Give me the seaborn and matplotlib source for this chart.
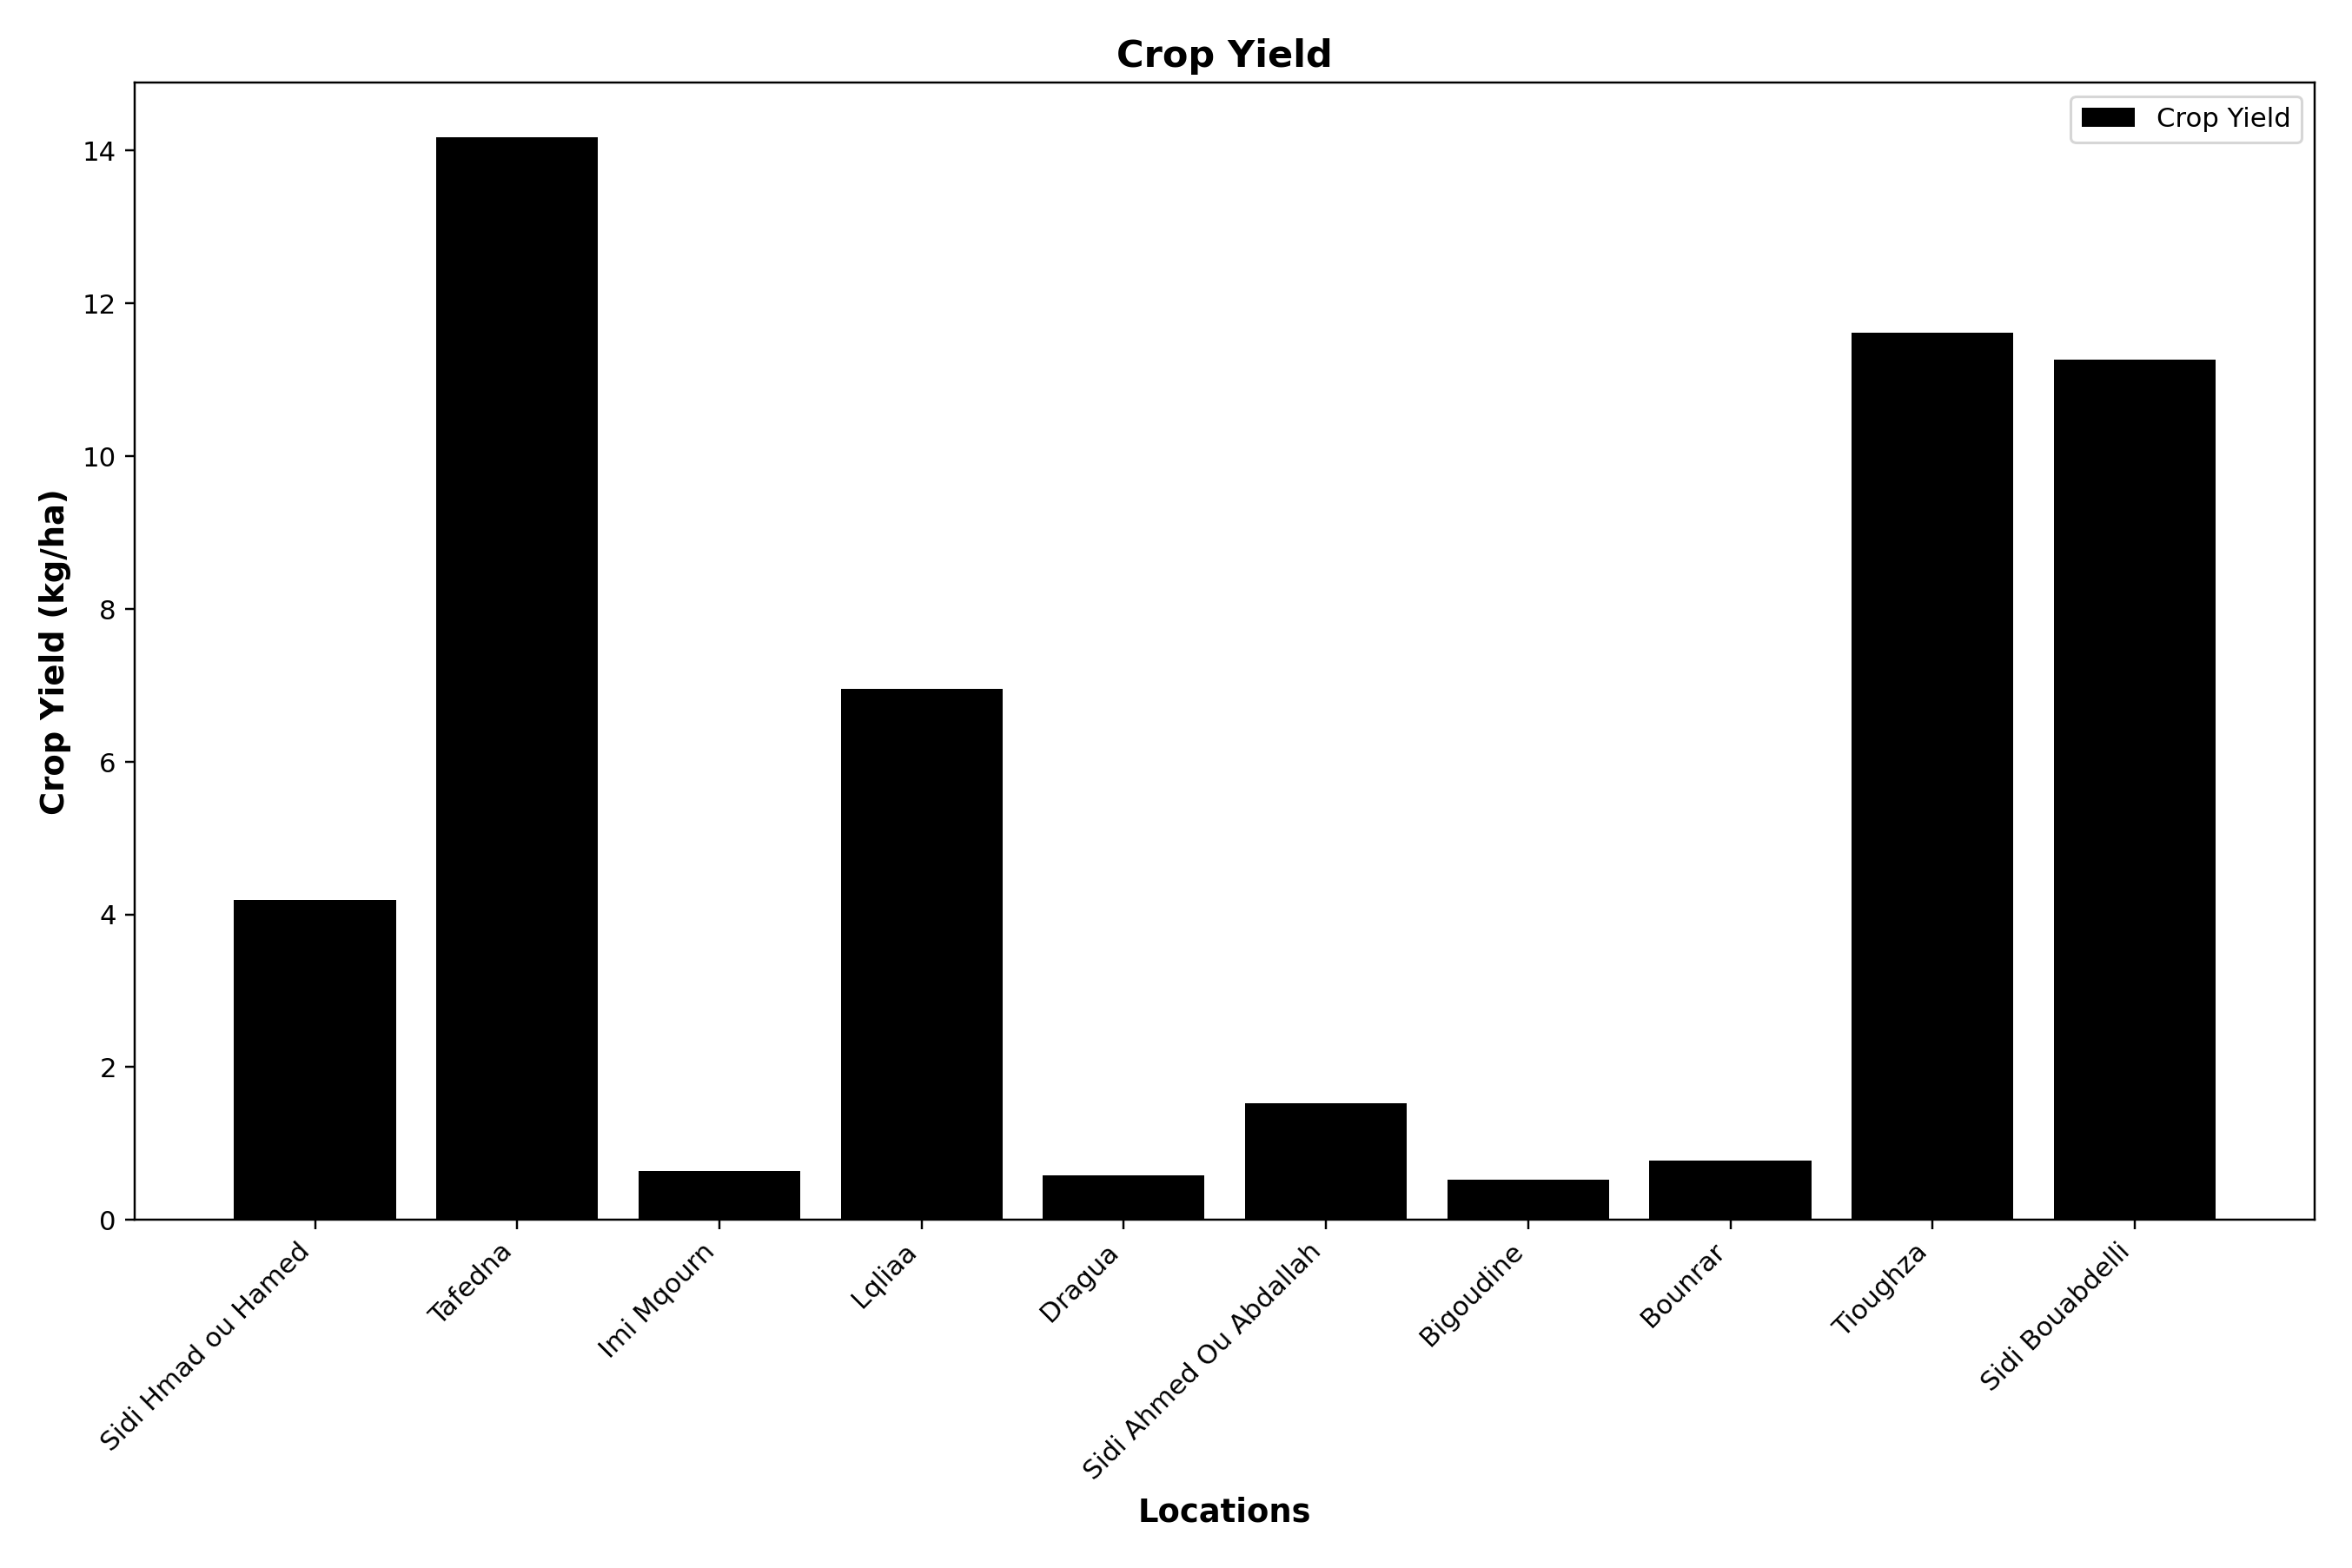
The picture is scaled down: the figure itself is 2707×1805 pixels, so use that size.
import matplotlib
matplotlib.use("Agg")
import matplotlib.pyplot as plt
import pandas as pd
import seaborn as sns

# data
locations = ['Sidi Hmad ou Hamed', 'Tafedna', 'Imi Mqourn', 'Lqliaa', 'Dragua',
             'Sidi Ahmed Ou Abdallah', 'Bigoudine', 'Bounrar', 'Tioughza', 'Sidi Bouabdelli']
crop_yield = [4.19, 14.18, 0.64, 6.95, 0.58, 1.53, 0.52, 0.78, 11.62, 11.26]

df = pd.DataFrame({'Location': locations, 'Crop Yield': crop_yield})

plt.rcParams['font.family'] = ['DejaVu Sans']

dpi = 221
fig, ax = plt.subplots(figsize=(2707.4 / dpi, 1805.4 / dpi), dpi=dpi)
sns.barplot(data=df, x='Location', y='Crop Yield', color='black', saturation=1,
            width=0.8, label='Crop Yield', ax=ax)
# same x padding as plain matplotlib bars
ax.autoscale(enable=True, axis='x')

ax.set_title('Crop Yield', fontsize=14, fontweight='bold')
ax.set_xlabel('Locations', fontsize=12, fontweight='bold')
ax.set_ylabel('Crop Yield (kg/ha)', fontsize=12, fontweight='bold')
plt.setp(ax.get_xticklabels(), rotation=45, ha='right')
ax.legend(loc='upper right')

fig.subplots_adjust(left=0.0574, right=0.984, top=0.947, bottom=0.222)
fig.savefig('out.png', dpi=dpi)
